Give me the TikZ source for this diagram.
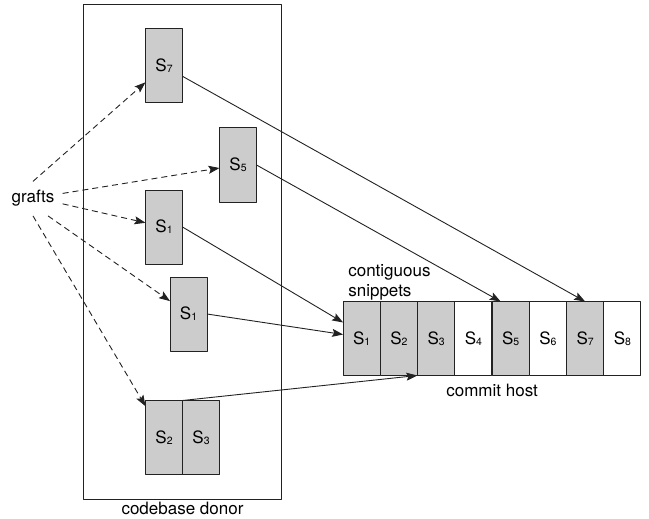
\documentclass[tikz,border=0pt]{standalone}
\usepackage{fontspec}
\setmainfont{TeX Gyre Heros}
\usetikzlibrary{positioning,arrows.meta}
\definecolor{snipgray}{HTML}{CCCCCC}
\definecolor{inkgray}{HTML}{222222}
\newcommand{\sn}[1]{S\raisebox{-1pt}{\fontsize{10.5}{10.5}\selectfont #1}}

\begin{document}
\begin{tikzpicture}[x=1pt, y=-1pt, font=\fontsize{17}{20}\selectfont, line join=round, >={Stealth[length=11pt,width=8pt,inset=2pt]},
 box/.style={draw=inkgray, line width=1pt, minimum width=37pt, minimum height=74pt, inner sep=0pt, outer sep=0pt},
 snip/.style={box, fill=snipgray},
 graft/.style={->, draw=inkgray, line width=0.9pt, dash pattern=on 6pt off 4pt},
 link/.style={->, draw=inkgray, line width=0.9pt}]
 \useasboundingbox (0,0) rectangle (649,519);
 \def\hx{343} \def\hy{338.5} \def\cw{37.25}
 % donor side
 \node[draw=inkgray, line width=1pt, minimum width=198.5pt, minimum height=494.5pt] (donor) at (182.5,252) {};
 \node[below=0.5pt of donor.south, inner sep=1.5pt] (donorlbl) {codebase donor};
 \node[snip] (s7) at (164,66) {\sn7};
 \node[snip] (s5) at (238,165) {\sn5};
 \node[snip] (s1a) at (164,227) {\sn1};
 \node[snip] (s1b) at (188.5,314) {\sn1};
 \node[snip] (s2) at (164,437.5) {\sn2};
 \node[snip, right=0pt of s2] (s3) {\sn3};
 \node[anchor=base, inner xsep=8pt, inner ysep=9pt] (grafts) at (33,203) {grafts};
 % host side
 \foreach \i/\f in {1/snipgray,2/snipgray,3/snipgray,4/white,5/snipgray,6/white,7/snipgray,8/white}
  \node[box, fill=\f] (h\i) at (\hx+\i*\cw-\cw/2,\hy) {\sn{\i}};
 \node[anchor=south west, align=left, inner sep=1pt, font=\fontsize{17}{20}\selectfont] (contig) at ([xshift=4pt]h1.north west) {contiguous\\snippets};
 \node[below=7pt of h5.south west, inner sep=1.5pt] (hostlbl) {commit host};
 % grafts
 \draw[graft] (grafts.north) -- (s7);
 \draw[graft] (grafts.10) -- (s5);
 \draw[graft] (grafts.-10) -- (s1a);
 \draw[graft] (grafts.-49) -- (s1b);
 \draw[graft] (grafts.south) -- (s2);
 % copies into the host
 \draw[link] (s7) -- (h7.north);
 \draw[link] (s5.east) -- ([xshift=-10pt]h5.north);
 \draw[link] (s1a.east) -- ([yshift=16pt]h1.west);
 \draw[link] (s1b.east) -- ([yshift=4pt]h1.west);
 \draw[link] (s2.north east) -- (h2.south east);
\end{tikzpicture}
\end{document}
